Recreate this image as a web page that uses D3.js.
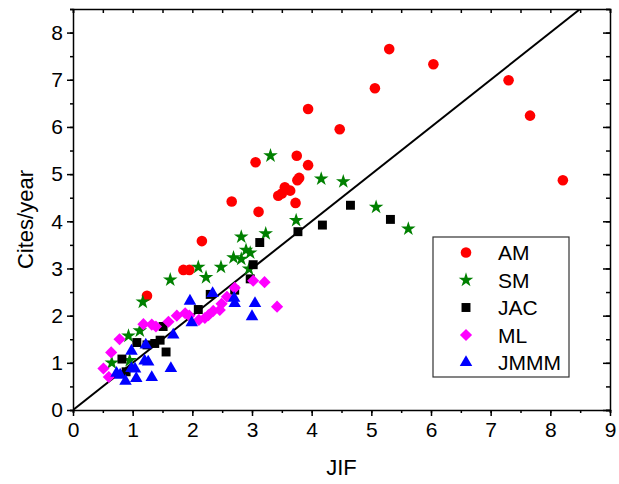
<!DOCTYPE html>
<html>
<head>
<meta charset="utf-8">
<script src="https://cdn.jsdelivr.net/npm/d3@7"></script>
<style>
  html, body { margin: 0; padding: 0; background: #fff; }
  svg { display: block; }
  text { font-family: "Liberation Sans", Arial, sans-serif; fill: #000; }
</style>
</head>
<body>
<svg id="chart" width="619" height="484"></svg>
<script>
// Journal impact factor (JIF) vs. citations per year, five journals
const seriesNames = ["AM", "SM", "JAC", "ML", "JMMM"];
const seriesColors = ["#ff0000", "#008000", "#000000", "#ff00ff", "#0000ff"];

const amJIF   = [1.24, 1.85, 1.95, 2.16, 2.66, 3.06, 3.11, 3.44, 3.50, 3.55, 3.64, 3.73, 3.76, 3.79, 3.75, 3.94, 3.94, 4.47, 5.06, 5.30, 6.04, 7.30, 7.66, 8.21];
const amCites = [2.42, 2.97, 2.97, 3.58, 4.42, 5.25, 4.20, 4.54, 4.59, 4.72, 4.65, 4.39, 4.87, 4.92, 5.39, 5.19, 6.38, 5.95, 6.82, 7.65, 7.33, 6.99, 6.24, 4.87];

const smJIF   = [0.65, 0.95, 0.93, 1.12, 1.17, 1.63, 2.10, 2.23, 2.48, 2.69, 2.82, 2.82, 2.90, 2.97, 2.95, 3.23, 3.31, 3.74, 4.16, 4.53, 5.08, 5.62];
const smCites = [1.00, 1.05, 1.57, 1.68, 2.29, 2.76, 3.03, 2.81, 3.03, 3.23, 3.20, 3.67, 3.39, 3.33, 2.99, 3.74, 5.39, 4.02, 4.90, 4.84, 4.30, 3.84];

const jacJIF   = [0.82, 0.89, 1.07, 1.24, 1.37, 1.46, 1.51, 1.56, 2.10, 2.30, 2.71, 2.97, 3.02, 3.13, 3.77, 4.18, 4.65, 5.32];
const jacCites = [1.08, 0.81, 1.43, 1.38, 1.41, 1.48, 1.77, 1.23, 2.13, 2.45, 2.54, 2.78, 3.08, 3.55, 3.78, 3.92, 4.34, 4.04];

const mlJIF   = [0.51, 0.60, 0.64, 0.78, 1.18, 1.32, 1.39, 1.60, 1.74, 1.88, 1.95, 2.11, 2.21, 2.27, 2.35, 2.46, 2.49, 2.58, 2.71, 3.02, 3.21, 3.42];
const mlCites = [0.88, 0.70, 1.22, 1.50, 1.82, 1.81, 1.77, 1.87, 2.00, 2.05, 2.00, 1.91, 1.95, 2.01, 2.10, 2.12, 2.25, 2.40, 2.59, 2.74, 2.71, 2.19];

const jmmmJIF   = [0.73, 0.79, 0.88, 0.98, 0.98, 1.04, 1.06, 1.20, 1.22, 1.26, 1.32, 1.64, 1.68, 1.96, 1.99, 2.34, 2.70, 2.71, 3.05, 3.00];
const jmmmCites = [0.78, 0.74, 0.61, 1.25, 0.88, 0.87, 0.67, 1.04, 1.38, 1.02, 0.69, 0.88, 1.59, 2.31, 1.85, 2.47, 2.37, 2.26, 2.26, 1.98];

const xTicks = [0, 1, 2, 3, 4, 5, 6, 7, 8, 9];
const yTicks = [0, 1, 2, 3, 4, 5, 6, 7, 8];
const xLabel = "JIF";
const yLabel = "Cites/year";

const svg = d3.select("#chart");
const margin = { left: 73, right: 9, top: 9, bottom: 74 };
const W = 619, H = 484;

const x = d3.scaleLinear().domain([0, 9]).range([margin.left, W - margin.right]);
const y = d3.scaleLinear().domain([0, 8.5]).range([H - margin.bottom, margin.top]);

// marker shapes per series
const symbols = [
  d3.symbol().type(d3.symbolCircle).size(88),
  d3.symbol().type(d3.symbolStar).size(66),
  d3.symbol().type(d3.symbolSquare).size(80),
  d3.symbol().type(d3.symbolSquare).size(74),
  d3.symbol().type(d3.symbolTriangle).size(68)
];
const rotations = [0, 0, 0, 45, 0];

const series = [
  { xs: amJIF, ys: amCites },
  { xs: smJIF, ys: smCites },
  { xs: jacJIF, ys: jacCites },
  { xs: mlJIF, ys: mlCites },
  { xs: jmmmJIF, ys: jmmmCites }
];

// y = x reference line, clipped to the plot frame
svg.append("clipPath").attr("id", "plotClip")
  .append("rect")
  .attr("x", x(0)).attr("y", y(8.5))
  .attr("width", x(9) - x(0)).attr("height", y(0) - y(8.5));

svg.append("line")
  .attr("clip-path", "url(#plotClip)")
  .attr("x1", x(0)).attr("y1", y(0))
  .attr("x2", x(8.5)).attr("y2", y(8.5))
  .attr("stroke", "#000").attr("stroke-width", 2);

// data points, drawn series by series so later ones sit on top
series.forEach((s, i) => {
  svg.append("g").selectAll("path")
    .data(s.xs.map((v, j) => [v, s.ys[j]]))
    .join("path")
    .attr("d", symbols[i]())
    .attr("transform", d => `translate(${x(d[0])},${y(d[1])}) rotate(${rotations[i]})`)
    .attr("fill", seriesColors[i]);
});

// axes
const minorX = d3.range(0, 9.01, 0.5);
const minorY = d3.range(0, 8.51, 0.5);

const axisB = svg.append("g").attr("transform", `translate(0,${y(0)})`)
  .call(d3.axisBottom(x).tickValues(minorX).tickSize(3).tickFormat(""));
axisB.append("g").call(d3.axisBottom(x).tickValues(xTicks).tickSize(6).tickPadding(6).tickFormat(d3.format("d")));

const axisL = svg.append("g").attr("transform", `translate(${x(0)},0)`)
  .call(d3.axisLeft(y).tickValues(minorY).tickSize(3).tickFormat(""));
axisL.append("g").call(d3.axisLeft(y).tickValues(yTicks).tickSize(6).tickPadding(4).tickFormat(d3.format("d")));

svg.append("g").attr("transform", `translate(0,${y(8.5)})`)
  .call(d3.axisTop(x).tickValues(minorX).tickSize(-4).tickFormat(""));

const axisR = svg.append("g").attr("transform", `translate(${x(9)},0)`)
  .call(d3.axisRight(y).tickValues(minorY).tickSize(-4).tickFormat(""));
axisR.append("g").call(d3.axisRight(y).tickValues(yTicks).tickSize(-7).tickFormat(""));

svg.selectAll(".domain").attr("stroke", "#000").attr("stroke-width", 1.5);
svg.selectAll(".tick line").attr("stroke", "#000").attr("stroke-width", 1.5);
svg.selectAll(".tick text").style("font-size", "21px").style("font-family", "'Liberation Sans', Arial, sans-serif");
// hide the outer tick caps of the overlay axes
svg.selectAll("g > g > .domain").remove();

// axis titles
svg.append("text")
  .attr("x", (x(0) + x(9)) / 2).attr("y", 475)
  .attr("text-anchor", "middle").style("font-size", "22px")
  .text(xLabel);

svg.append("text")
  .attr("transform", `translate(33,${(y(0) + y(8.5)) / 2 + 10}) rotate(-90)`)
  .attr("text-anchor", "middle").style("font-size", "22px")
  .text(yLabel);

// legend
const lg = svg.append("g");
lg.append("rect")
  .attr("x", 433).attr("y", 237).attr("width", 136).attr("height", 140)
  .attr("fill", "#fff").attr("stroke", "#333").attr("stroke-width", 1.2);

seriesNames.forEach((name, i) => {
  const cy = 252.5 + i * 27.5;
  lg.append("path")
    .attr("d", symbols[i]())
    .attr("transform", `translate(466,${cy}) rotate(${rotations[i]})`)
    .attr("fill", seriesColors[i]);
  lg.append("text")
    .attr("x", 498).attr("y", cy + 7.5)
    .style("font-size", "21px")
    .text(name);
});
</script>
</body>
</html>
